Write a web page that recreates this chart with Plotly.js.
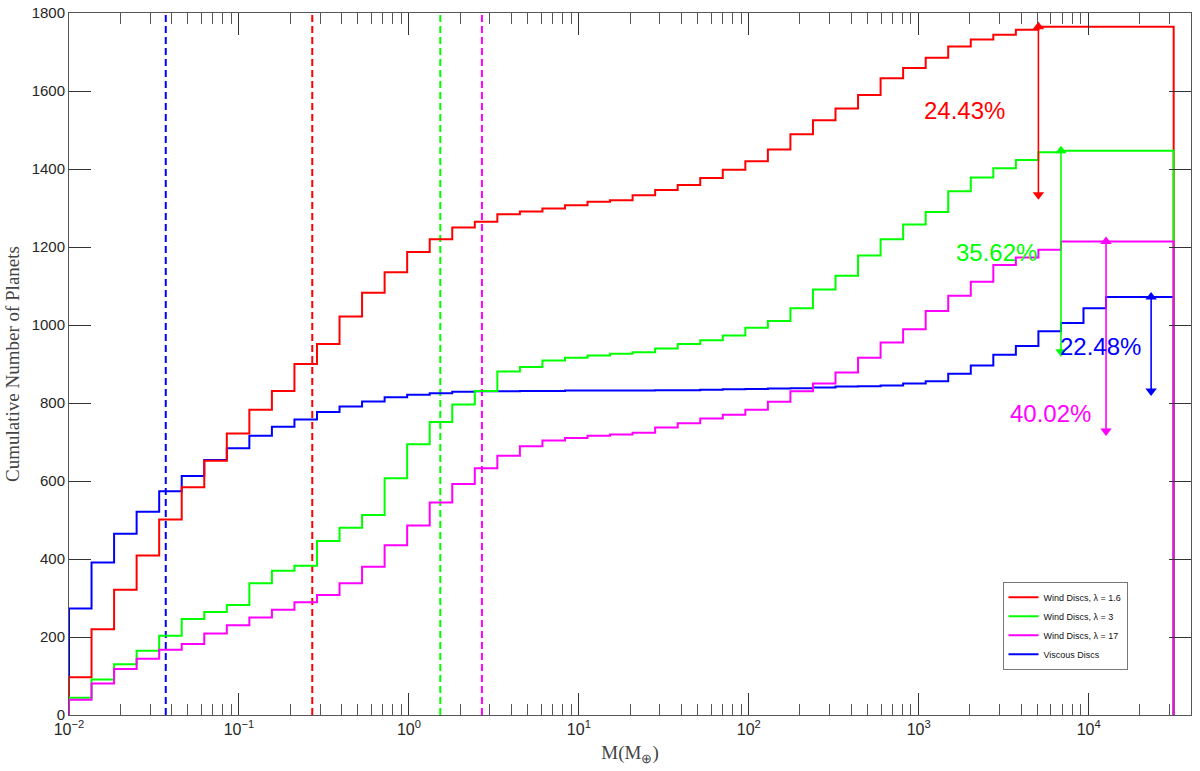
<!DOCTYPE html>
<html>
<head>
<meta charset="utf-8">
<script src="https://cdn.plot.ly/plotly-3.0.1.min.js"></script>
<style>
  html,body{margin:0;padding:0;background:#fff;}
  #chart{width:1200px;height:771px;}
</style>
</head>
<body>
<div id="chart"></div>
<script>
// histogram bins: 50 log-spaced edges from 1e-2 to 10^4.5 (as in the source figure)
const binEdges = Array.from({length:50}, (_,k) => Math.pow(10, -2 + k*6.5/49));

// cumulative counts per bin (49 bins)
const windLam16 = [97,220,321,409,501,584,652,722,783,831,900,951,1022,1083,1135,1187,1220,1250,1265,1284,
  1291,1299,1307,1316,1320,1333,1346,1359,1377,1398,1420,1450,1489,1525,1555,1590,1633,1659,1685,1714,
  1732,1744,1757,1765,1765,1765,1765,1765,1765];
const windLam3 = [44,91,130,165,203,246,264,282,338,370,383,446,480,513,607,694,751,796,831,881,
  892,909,916,922,926,930,940,951,961,973,993,1010,1043,1091,1126,1178,1220,1258,1290,1343,
  1378,1402,1423,1443,1447,1447,1447,1447,1447];
const windLam17 = [39,81,118,144,167,182,209,230,250,270,289,308,338,380,435,486,545,592,633,665,
  689,704,710,716,719,724,737,748,760,770,783,803,830,850,878,916,955,989,1036,1075,
  1111,1154,1173,1193,1214,1214,1214,1214,1214];
const viscous = [273,391,465,521,574,613,654,684,716,739,758,777,791,804,815,821,825,829,830,830,
  831,831,832,832,832,832,833,833,834,835,836,837,838,840,842,843,845,850,856,875,
  896,924,946,984,1005,1043,1072,1072,1072];

const seriesNames = ['Wind Discs, λ = 1.6', 'Wind Discs, λ = 3', 'Wind Discs, λ = 17', 'Viscous Discs'];
const seriesColors = ['#ff0000', '#00ff00', '#ff00ff', '#0000ff'];
const seriesData = [windLam16, windLam3, windLam17, viscous];

// dashed reference masses (M_earth)
const dashMass = [0.270, 1.53, 2.69, 0.0371];
// loss arrows: mass position and percentage
const arrowMass = [5060, 6870, 12650, 23300];
const arrowPct = [24.43, 35.62, 40.02, 22.48];
const labelMass = [1871, 2884, 5998, 11670];
const labelCount = [1551, 1187, 774, 944];

const decadeVals = [1e-2, 1e-1, 1, 10, 100, 1e3, 1e4];
const decadeText = ['10<sup>−2</sup>','10<sup>−1</sup>','10<sup>0</sup>','10<sup>1</sup>','10<sup>2</sup>','10<sup>3</sup>','10<sup>4</sup>'];

function stairs(counts){
  const x=[binEdges[0]], y=[0];
  counts.forEach((c,i)=>{ x.push(binEdges[i]); y.push(c); });
  const last = binEdges[counts.length];
  x.push(last); y.push(counts[counts.length-1]);
  x.push(last); y.push(0);
  return {x, y};
}

const traces = [];
// dashed verticals first
dashMass.forEach((m,i)=>{
  traces.push({type:'scatter', mode:'lines', x:[m,m], y:[0,1800], showlegend:false, hoverinfo:'skip',
    line:{color:seriesColors[i], width:2, dash:'7px,4px'}});
});
// draw order: viscous first, then the wind discs
const drawOrder = [3,0,1,2];
drawOrder.forEach(i=>{
  const s = stairs(seriesData[i]);
  traces.push({type:'scatter', mode:'lines', x:s.x, y:s.y, name:seriesNames[i], legendrank:i+1,
    line:{color:seriesColors[i], width:2, shape:'hv'}});
});

// loss arrows: a line with a triangle at each end
const annotations = [];
seriesData.forEach((d,i)=>{
  const top = d[d.length-1];
  const bottom = top*(1-arrowPct[i]/100);
  traces.push({type:'scatter', mode:'lines+markers', x:[arrowMass[i], arrowMass[i]], y:[top, bottom],
    showlegend:false, hoverinfo:'skip', cliponaxis:false,
    line:{color:seriesColors[i], width:1.6},
    marker:{color:seriesColors[i], size:10, symbol:['triangle-up','triangle-down'], line:{width:0}}});
  annotations.push({x:Math.log10(labelMass[i]), y:labelCount[i], xref:'x', yref:'y',
    text:arrowPct[i].toFixed(2)+'%', showarrow:false, xanchor:'center', yanchor:'middle',
    font:{family:'Liberation Sans, Arial, sans-serif', size:24, color:seriesColors[i]}});
});

const layout = {
  width:1200, height:771,
  margin:{l:69, r:9, t:13, b:56},
  paper_bgcolor:'#fff', plot_bgcolor:'#fff',
  showlegend:true,
  font:{family:'Liberation Sans, Arial, sans-serif', size:15, color:'#262626'},
  xaxis:{
    type:'log', range:[-2, 4.602],
    tickmode:'array', tickvals:decadeVals, ticktext:decadeText,
    ticks:'inside', ticklen:22, tickwidth:1, tickcolor:'#333',
    minor:{ticks:'inside', ticklen:11, tickwidth:1, tickcolor:'#555', dtick:'D1', showgrid:false},
    showline:true, linecolor:'#555', linewidth:1, mirror:'ticks',
    showgrid:false, zeroline:false,
    tickfont:{size:16},
    title:{text:'M(M<sub>⊕</sub>)', font:{family:'Liberation Serif, Times New Roman, serif', size:19, color:'#444'}, standoff:8}
  },
  yaxis:{
    range:[0,1800], dtick:200, tick0:0,
    ticks:'inside', ticklen:22, tickwidth:1, tickcolor:'#333',
    showline:true, linecolor:'#555', linewidth:1, mirror:'ticks',
    showgrid:false, zeroline:false,
    title:{text:'Cumulative Number of Planets', font:{family:'Liberation Serif, Times New Roman, serif', size:19, color:'#444'}, standoff:6}
  },
  legend:{x:0.832, y:0.127, xanchor:'left', yanchor:'middle', bgcolor:'#fff',
    bordercolor:'#777', borderwidth:1, font:{size:9, color:'#111'}, itemwidth:30, tracegroupgap:0},
  annotations
};

Plotly.newPlot('chart', traces, layout, {displayModeBar:false, staticPlot:true});
</script>
</body>
</html>
